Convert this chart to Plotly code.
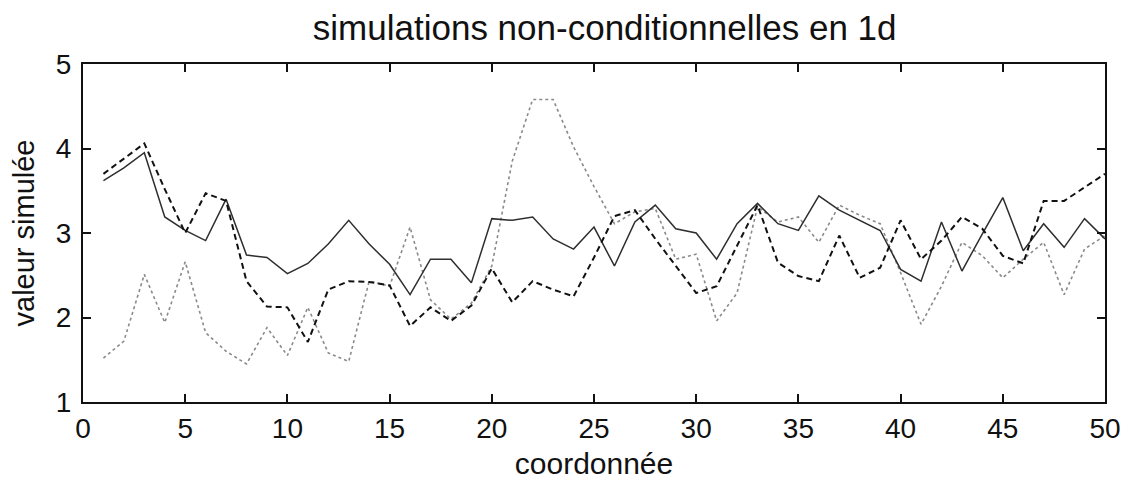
import plotly.graph_objects as go

x = list(range(1, 51))

sim_solid = [3.62, 3.77, 3.95, 3.19, 3.03, 2.91, 3.40, 2.74, 2.71, 2.52,
             2.64, 2.87, 3.15, 2.87, 2.63, 2.27, 2.69, 2.69, 2.41, 3.17,
             3.15, 3.19, 2.93, 2.81, 3.07, 2.61, 3.13, 3.33, 3.05, 3.00,
             2.69, 3.11, 3.35, 3.11, 3.03, 3.44, 3.27, 3.15, 3.03, 2.57,
             2.43, 3.13, 2.55, 2.99, 3.42, 2.79, 3.11, 2.83, 3.17, 2.93]

sim_dashed = [3.70, 3.88, 4.06, 3.52, 3.00, 3.47, 3.38, 2.43, 2.13, 2.12,
              1.71, 2.33, 2.43, 2.42, 2.38, 1.90, 2.12, 1.96, 2.14, 2.58,
              2.18, 2.43, 2.33, 2.25, 2.71, 3.20, 3.27, 2.93, 2.61, 2.29,
              2.37, 2.85, 3.33, 2.65, 2.49, 2.43, 2.97, 2.47, 2.59, 3.15,
              2.69, 2.91, 3.19, 3.05, 2.73, 2.64, 3.38, 3.38, 3.54, 3.70]

sim_dotted = [1.52, 1.72, 2.51, 1.94, 2.66, 1.82, 1.60, 1.45, 1.88, 1.55,
              2.12, 1.58, 1.48, 2.43, 2.37, 3.07, 2.21, 1.98, 2.17, 2.61,
              3.85, 4.58, 4.58, 4.02, 3.55, 3.11, 3.25, 3.29, 2.69, 2.75,
              1.96, 2.29, 3.31, 3.13, 3.19, 2.89, 3.33, 3.21, 3.11, 2.53,
              1.92, 2.37, 2.89, 2.73, 2.47, 2.69, 2.89, 2.27, 2.81, 2.97]

x_ticks = list(range(0, 51, 5))
y_ticks = [1, 2, 3, 4, 5]

fig = go.Figure()
fig.add_trace(go.Scatter(x=x, y=sim_dotted, mode="lines",
                         line=dict(color="#8a8a8a", width=1.6, dash="dot")))
fig.add_trace(go.Scatter(x=x, y=sim_solid, mode="lines",
                         line=dict(color="#2e2e2e", width=1.5)))
fig.add_trace(go.Scatter(x=x, y=sim_dashed, mode="lines",
                         line=dict(color="#111111", width=2, dash="6px,4px")))

font_family = "Liberation Sans, Arial, sans-serif"
W, H = 1126, 481  # page body has an 8px margin
fig.update_layout(
    width=W, height=H,
    margin=dict(l=72, r=29, t=56, b=87),
    paper_bgcolor="white", plot_bgcolor="white",
    showlegend=False,
    font=dict(family=font_family, color="#111", size=28),
    title=dict(text="simulations non-conditionnelles en 1d",
               x=596.7 / W, xanchor="center",
               y=1 - 20 / H, yanchor="middle", font=dict(size=35, family=font_family)),
)
fig.update_xaxes(range=[0, 50], tickvals=x_ticks, ticks="inside", ticklen=8, tickwidth=1.5,
                 tickcolor="#111", showline=True, linecolor="#111", linewidth=2,
                 mirror="ticks", showgrid=False, zeroline=False,
                 title=dict(text="coordonnée", font=dict(size=30), standoff=10))
fig.update_yaxes(range=[1, 5], tickvals=y_ticks, ticks="inside", ticklen=8, tickwidth=1.5,
                 tickcolor="#111", showline=True, linecolor="#111", linewidth=2,
                 mirror="ticks", showgrid=False, zeroline=False, ticklabelstandoff=4,
                 title=dict(text="valeur simulée", font=dict(size=29), standoff=16))
fig.write_html("out.html")
